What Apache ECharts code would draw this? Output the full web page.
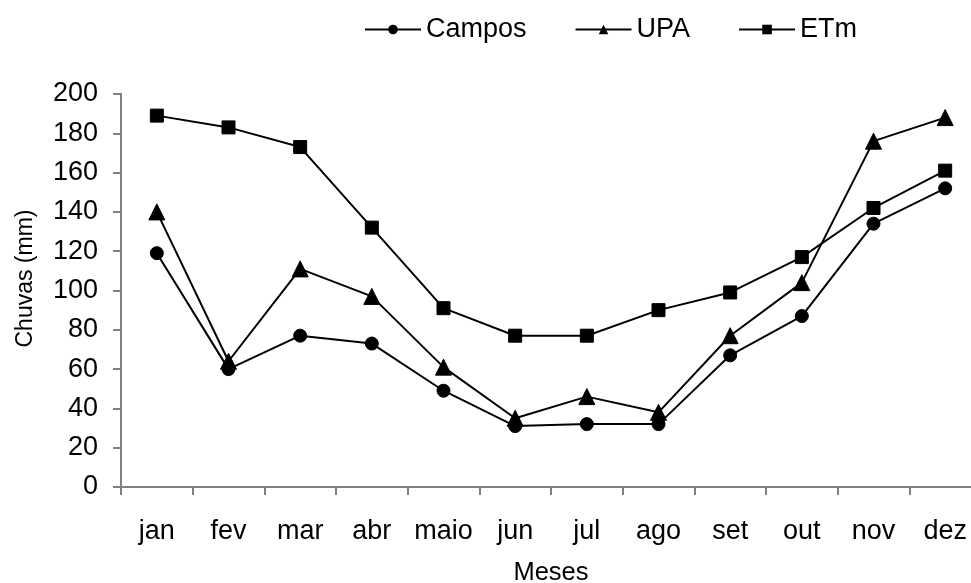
<!DOCTYPE html>
<html>
<head>
<meta charset="utf-8">
<script src="https://cdn.jsdelivr.net/npm/echarts@6/dist/echarts.min.js"></script>
<style>
html,body{margin:0;padding:0;background:#fff;}
#chart{width:971px;height:583px;}
</style>
</head>
<body>
<div id="chart"></div>
<script>
const months = ['jan','fev','mar','abr','maio','jun','jul','ago','set','out','nov','dez'];
const campos = [119,60,77,73,49,31,32,32,67,87,134,152];
const upa = [140,64,111,97,61,35,46,38,77,104,176,188];
const etm = [189,183,173,132,91,77,77,90,99,117,142,161];
const yTicks = {min:0, max:200, interval:20};

const font = '"Liberation Sans", Arial, sans-serif';
const chart = echarts.init(document.getElementById('chart'));
function mk(name, data, symbol, size){
  return {
    name, type:'line', data, symbol, symbolSize:size, showSymbol:true,
    lineStyle:{color:'#000', width:2},
    itemStyle:{color:'#000', borderColor:'#000'},
    emphasis:{disabled:true}, animation:false
  };
}
chart.setOption({
  animation:false,
  backgroundColor:'#fff',
  textStyle:{fontFamily:font, color:'#000'},
  legend:{
    left:359, top:11, itemWidth:56, itemHeight:12, itemGap:48,
    textStyle:{fontFamily:font, fontSize:27, color:'#000'},
    data:['Campos','UPA','ETm']
  },
  grid:{left:121, top:94, right:-10, bottom:96, containLabel:false, outerBoundsMode:'none'},
  xAxis:{
    type:'category', data:months, boundaryGap:true,
    name:'Meses', nameLocation:'middle', nameGap:73,
    nameTextStyle:{fontFamily:font, fontSize:25.5, color:'#000'},
    axisLine:{lineStyle:{color:'#808080', width:2}},
    axisTick:{show:true, length:8, lineStyle:{color:'#808080', width:2}},
    axisLabel:{fontFamily:font, fontSize:27, color:'#000', margin:31, interval:0},
    splitLine:{show:false}
  },
  yAxis:{
    type:'value', min:yTicks.min, max:yTicks.max, interval:yTicks.interval,
    name:'Chuvas (mm)', nameLocation:'middle', nameGap:84, nameRotate:90,
    nameTextStyle:{fontFamily:font, fontSize:23, color:'#000', padding:[0,0,0,24]},
    axisLine:{show:true, lineStyle:{color:'#808080', width:2}},
    axisTick:{show:true, length:8, lineStyle:{color:'#808080', width:2}},
    axisLabel:{fontFamily:font, fontSize:27, color:'#000', margin:23},
    splitLine:{show:false}
  },
  series:[
    mk('Campos', campos, 'circle', 13),
    mk('UPA', upa, 'triangle', 16),
    mk('ETm', etm, 'rect', 13)
  ]
});
</script>
</body>
</html>
